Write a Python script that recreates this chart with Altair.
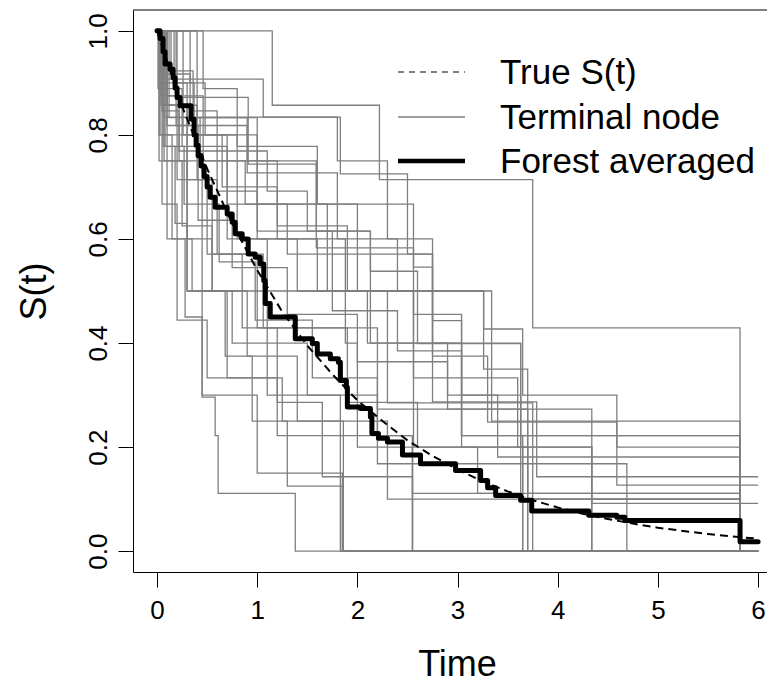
import altair as alt
import pandas as pd

# ---------------- data ----------------
# terminal-node survival curves: event times and survival after each drop
node_times = [
    [1.15, 2.22, 3.75, 5.82],
    [0.06, 0.18, 0.30, 0.45, 0.58, 0.61, 1.38],
    [0.02, 0.10, 0.30, 0.55, 1.10, 1.83],
    [0.40, 1.00, 2.00, 3.26, 3.65, 4.59],
    [0.08, 0.25, 0.70, 1.30, 2.75, 3.79],
    [0.03, 0.33, 0.90, 1.59, 2.56, 3.04, 3.65],
    [0.10, 0.46, 1.20, 1.90, 2.75, 3.30, 4.59, 5.82],
    [0.05, 0.22, 0.60, 1.00, 1.75, 2.40, 3.04, 5.82],
    [0.17, 0.37, 0.80, 1.40, 2.10, 2.90, 3.40, 5.82],
    [0.02, 0.10, 0.35, 0.75, 1.50, 2.20, 4.69],
    [0.04, 0.20, 0.50, 1.00, 1.90, 2.60, 3.20, 5.82],
    [0.07, 0.30, 0.70, 1.25, 2.30, 5.82],
    [0.12, 0.43, 0.88, 1.70, 2.56, 3.60, 4.34],
    [0.03, 0.15, 0.28, 0.45, 1.00, 1.85],
    [0.05, 0.20, 0.50, 1.20, 2.55],
    [0.19, 0.41, 0.75, 1.30, 2.00, 2.90, 3.70],
    [0.01, 0.08, 0.27, 0.62, 0.98, 1.55, 2.20, 2.55, 3.65],
    [0.07, 1.83, 2.50, 2.75, 3.04, 3.65, 5.82],
    [0.10, 0.90, 1.80, 2.40, 3.34, 5.82],
    [0.05, 0.30, 0.65, 1.20, 1.60, 2.13, 2.56, 3.70],
    [0.33, 0.48, 1.00, 1.88, 2.00, 2.55],
    [0.02, 0.25, 0.55, 0.90, 1.40, 1.86],
    [0.46, 0.80, 1.60, 2.56, 2.75, 3.63, 5.82],
    [0.14, 0.36, 0.60, 1.10, 1.50, 2.13, 2.60, 3.63, 5.82],
    [0.26, 0.70, 1.10, 2.30, 3.75],
    [0.09, 0.40, 0.60, 1.06, 2.20, 4.34],
    [0.20, 0.91, 1.59, 2.13, 2.56, 3.04, 3.63, 4.34],
    [0.07, 1.06, 1.80, 2.30, 2.75, 3.26, 3.70, 5.82],
    [0.04, 0.22, 0.45, 0.68, 0.95, 1.30, 1.85],
    [0.10, 0.30, 0.55, 0.85, 1.20, 1.65, 2.55],
]
node_surv = [
    [0.857, 0.714, 0.429, 0.0],
    [0.778, 0.630, 0.500, 0.296, 0.222, 0.111, 0.0],
    [0.900, 0.800, 0.600, 0.500, 0.300, 0.0],
    [0.833, 0.667, 0.500, 0.427, 0.300, 0.127],
    [0.889, 0.778, 0.667, 0.571, 0.287, 0.143],
    [0.917, 0.833, 0.750, 0.583, 0.455, 0.200, 0.0],
    [0.875, 0.750, 0.625, 0.500, 0.375, 0.248, 0.200, 0.0],
    [0.846, 0.769, 0.692, 0.615, 0.462, 0.385, 0.222, 0.0],
    [0.900, 0.800, 0.600, 0.500, 0.400, 0.300, 0.181, 0.0],
    [0.800, 0.600, 0.500, 0.400, 0.300, 0.168, 0.0],
    [0.857, 0.714, 0.571, 0.429, 0.286, 0.200, 0.111, 0.0],
    [0.750, 0.500, 0.333, 0.250, 0.100, 0.0],
    [0.833, 0.750, 0.667, 0.500, 0.333, 0.200, 0.092],
    [0.800, 0.600, 0.450, 0.300, 0.150, 0.0],
    [0.667, 0.444, 0.333, 0.222, 0.0],
    [0.818, 0.636, 0.545, 0.455, 0.364, 0.273, 0.0],
    [0.889, 0.778, 0.667, 0.556, 0.444, 0.333, 0.222, 0.111, 0.0],
    [0.834, 0.725, 0.571, 0.443, 0.222, 0.100, 0.0],
    [0.818, 0.727, 0.600, 0.500, 0.250, 0.0],
    [0.900, 0.800, 0.700, 0.600, 0.500, 0.400, 0.200, 0.0],
    [0.900, 0.800, 0.600, 0.400, 0.200, 0.0],
    [0.750, 0.625, 0.500, 0.375, 0.250, 0.0],
    [0.889, 0.778, 0.667, 0.546, 0.400, 0.100, 0.0],
    [0.923, 0.846, 0.769, 0.692, 0.615, 0.538, 0.399, 0.222, 0.0],
    [0.800, 0.600, 0.500, 0.285, 0.0],
    [0.857, 0.714, 0.571, 0.429, 0.273, 0.0],
    [0.872, 0.744, 0.615, 0.500, 0.400, 0.300, 0.200, 0.0],
    [0.907, 0.834, 0.750, 0.600, 0.500, 0.350, 0.111, 0.0],
    [0.875, 0.750, 0.500, 0.375, 0.250, 0.125, 0.0],
    [0.857, 0.714, 0.571, 0.429, 0.286, 0.143, 0.0],
]
t_end = 6.0

# forest averaged estimate (step function)
forest_t = [0.00, 0.03, 0.06, 0.08, 0.13, 0.16, 0.18, 0.20, 0.23, 0.34, 0.37, 0.39,
            0.41, 0.44, 0.47, 0.50, 0.53, 0.58, 0.70, 0.75, 0.78, 0.85, 0.91, 0.98,
            1.03, 1.065, 1.08, 1.13, 1.38, 1.55, 1.60, 1.73, 1.81, 1.83, 1.89, 1.90,
            2.03, 2.13, 2.145, 2.21, 2.30, 2.45, 2.63, 2.98, 3.23, 3.30, 3.38, 3.63,
            3.74, 4.31, 4.59, 4.67, 5.82, 6.00]
forest_s = [1.000, 0.985, 0.960, 0.936, 0.926, 0.910, 0.890, 0.872, 0.856, 0.830, 0.800, 0.780,
            0.760, 0.740, 0.720, 0.700, 0.680, 0.661, 0.648, 0.632, 0.610, 0.600, 0.571, 0.565,
            0.552, 0.520, 0.476, 0.450, 0.408, 0.399, 0.379, 0.370, 0.363, 0.328, 0.315, 0.277,
            0.274, 0.258, 0.226, 0.217, 0.210, 0.185, 0.168, 0.155, 0.136, 0.122, 0.107, 0.098,
            0.077, 0.069, 0.065, 0.059, 0.018, 0.018]

# true survival curve (dashed)
true_t = [0.00, 0.25, 0.50, 0.75, 1.00, 1.25, 1.50, 1.75, 2.00, 2.25, 2.50, 2.75, 3.00,
          3.25, 3.50, 3.75, 4.00, 4.25, 4.50, 4.75, 5.00, 5.25, 5.50, 5.75, 6.00]
true_s = [1.000, 0.855, 0.735, 0.630, 0.540, 0.460, 0.395, 0.340, 0.290, 0.250, 0.213,
          0.183, 0.157, 0.134, 0.115, 0.098, 0.084, 0.072, 0.062, 0.053, 0.045, 0.039,
          0.033, 0.028, 0.024]

x_ticks = [0, 1, 2, 3, 4, 5, 6]
y_ticks = [0.0, 0.2, 0.4, 0.6, 0.8, 1.0]
legend_labels = ["True S(t)", "Terminal node", "Forest averaged"]

# ---------------- tables ----------------
rows = []
for i, (ts, ss) in enumerate(zip(node_times, node_surv)):
    pts = [(0.0, 1.0)] + list(zip(ts, ss)) + [(t_end, ss[-1])]
    for k, (t, s) in enumerate(pts):
        rows.append({"node": i, "k": k, "t": t, "s": s})
nodes_df = pd.DataFrame(rows)
forest_df = pd.DataFrame({"t": forest_t, "s": forest_s, "k": list(range(len(forest_t)))})
true_df = pd.DataFrame({"t": true_t, "s": true_s, "k": list(range(len(true_t)))})

FONT = "Liberation Sans"
W, H = 634, 562

xs = alt.Scale(domain=[-0.24, 6.089], nice=False, zero=False)
ys = alt.Scale(domain=[-0.04, 1.04], nice=False, zero=False)

x_axis = alt.Axis(values=x_ticks, format="d", title="Time", grid=False,
                  tickSize=15, tickColor="black", domainColor="black",
                  labelColor="black", titleColor="black", labelFontSize=26,
                  titleFontSize=36, titleFontWeight="normal", labelPadding=10,
                  labelFlush=False, labelOverlap=False,
                  titleX=324, titleY=92, titleBaseline="middle", titleAlign="center")
y_axis = alt.Axis(values=y_ticks, format=".1f", title="S(t)", grid=False,
                  tickSize=15, tickColor="black", domainColor="black",
                  labelColor="black", titleColor="black", labelFontSize=26,
                  titleFontSize=36, titleFontWeight="normal", labelPadding=7,
                  labelAngle=270, labelAlign="center", labelBaseline="bottom",
                  labelFlush=False, labelOverlap=False,
                  titleAngle=270, titleX=-99, titleY=281,
                  titleBaseline="middle", titleAlign="center")

gray = alt.Chart(nodes_df).mark_line(
    interpolate="step-after", color="#7f7f7f", strokeWidth=1.3
).encode(
    x=alt.X("t:Q", scale=xs, axis=x_axis),
    y=alt.Y("s:Q", scale=ys, axis=y_axis),
    detail="node:N",
    order="k:Q",
)

true_line = alt.Chart(true_df).mark_line(
    color="black", strokeWidth=2, strokeDash=[8, 5]
).encode(x=alt.X("t:Q", scale=xs), y=alt.Y("s:Q", scale=ys), order="k:Q")

forest_line = alt.Chart(forest_df).mark_line(
    interpolate="step-after", color="black", strokeWidth=5, strokeJoin="round",
    strokeCap="round"
).encode(x=alt.X("t:Q", scale=xs), y=alt.Y("s:Q", scale=ys), order="k:Q")

top_border = alt.Chart(pd.DataFrame({"a": [0]})).mark_rule(
    color="black", strokeWidth=1
).encode(x=alt.value(0), x2=alt.value(W), y=alt.value(0))

# legend
leg_y_line = [62, 107, 151]
leg_y_text = [74, 119, 163]
leg_layers = []
styles = [dict(color="black", strokeWidth=1.2, strokeDash=[6, 5]),
          dict(color="#7f7f7f", strokeWidth=1.3),
          dict(color="black", strokeWidth=4.5)]
for lab, yl, yt, st in zip(legend_labels, leg_y_line, leg_y_text, styles):
    d = pd.DataFrame({"label": [lab]})
    leg_layers.append(
        alt.Chart(d).mark_rule(**st).encode(
            x=alt.value(265), x2=alt.value(332), y=alt.value(yl))
    )
    leg_layers.append(
        alt.Chart(d).mark_text(
            align="left", baseline="alphabetic", font=FONT, fontSize=35, color="black"
        ).encode(x=alt.value(367), y=alt.value(yt), text="label:N")
    )

chart = alt.layer(gray, true_line, forest_line, top_border, *leg_layers).properties(
    width=W, height=H,
    autosize=alt.AutoSizeParams(type="none"),
    padding={"left": 125, "top": 2, "right": 0, "bottom": 110},
).configure_axis(
    labelFont=FONT, titleFont=FONT
).configure_view(stroke=None)

chart.save("out.html", embed_options={"renderer": "svg", "actions": False})
